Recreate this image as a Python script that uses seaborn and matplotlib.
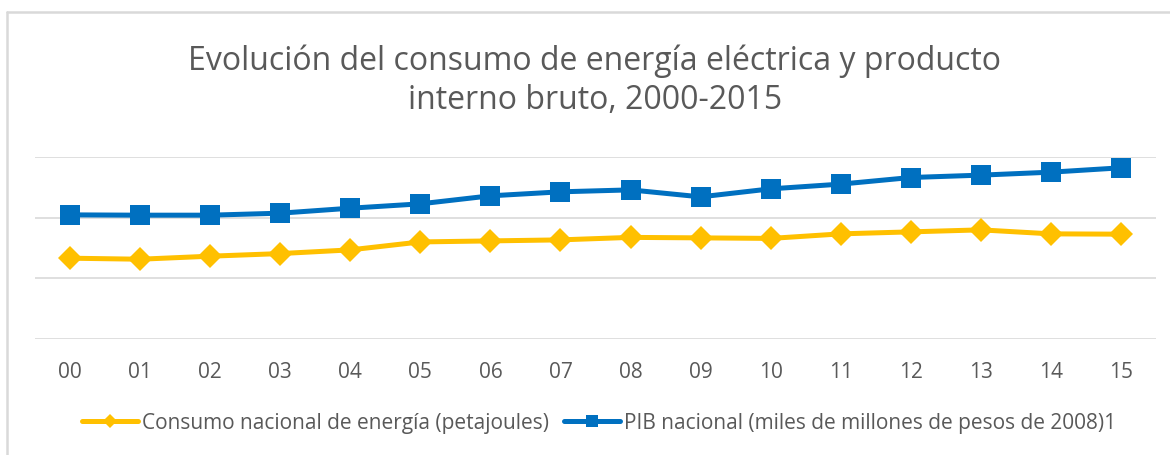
import pandas as pd
import numpy as np
import matplotlib.pyplot as plt
import seaborn as sns
from matplotlib.lines import Line2D

sns.set_theme(style="white")
plt.rcParams["font.family"] = ["Open Sans", "DejaVu Sans"]

# datos (eje y sin etiquetas, escala 0-15000)
years = ["00", "01", "02", "03", "04", "05", "06", "07",
         "08", "09", "10", "11", "12", "13", "14", "15"]
consumo = [6660, 6575, 6825, 7040, 7345, 8000, 8085, 8170,
           8375, 8335, 8290, 8665, 8830, 8995, 8665, 8640]
pib = [10230, 10205, 10205, 10370, 10780, 11140, 11800, 12130,
       12290, 11715, 12375, 12765, 13310, 13505, 13750, 14110]

lbl_consumo = "Consumo nacional de energía (petajoules)"
lbl_pib = "PIB nacional (miles de millones de pesos de 2008)1"

YELLOW = "#FFC000"
BLUE = "#0070C0"
GRID = "#D9D9D9"
TEXT = "#595959"

df = pd.DataFrame({"year": years, "consumo": consumo, "pib": pib})

fig = plt.figure(figsize=(11.7, 4.56), dpi=100)
ax = fig.add_axes([35 / 1170, (456 - 340) / 456, 1121 / 1170, (340 - 158) / 456])

sns.lineplot(data=df, x="year", y="consumo", ax=ax, color=YELLOW, lw=3.6,
             marker="D", markersize=12.5, markeredgewidth=0, label=lbl_consumo, sort=False)
sns.lineplot(data=df, x="year", y="pib", ax=ax, color=BLUE, lw=3.6,
             marker="s", markersize=14.5, markeredgewidth=0, label=lbl_pib, sort=False)

ax.set_xlim(-0.5, len(years) - 0.5)
ax.set_ylim(0, 15000)
ax.set_yticks([0, 5000, 10000, 15000])
ax.set_yticklabels([])
ax.grid(axis="y", color=GRID, lw=1.2)
ax.set_axisbelow(True)
for s in ax.spines.values():
    s.set_visible(False)
ax.set_xlabel("")
ax.set_ylabel("")
ax.tick_params(axis="x", length=0, pad=16, labelsize=15, labelcolor=TEXT)
ax.tick_params(axis="y", length=0)

fig.text(595 / 1170, 1 - 81 / 456,
         "Evolución del consumo de energía eléctrica y producto\ninterno bruto, 2000-2015",
         ha="center", va="center", fontsize=23, color=TEXT, linespacing=1.25)

ax.legend(loc="center", bbox_to_anchor=(599 / 1170, 1 - 424 / 456),
          bbox_transform=fig.transFigure, ncol=2, frameon=False,
          fontsize=15, labelcolor=TEXT, markerscale=0.55,
          handlelength=2.7, handletextpad=0.2, columnspacing=0.7)

# borde de la grafica (solo arriba e izquierda visibles)
fig.add_artist(Line2D([7 / 1170, 7 / 1170], [0, 1 - 13 / 456], color=GRID, lw=1.8))
fig.add_artist(Line2D([7 / 1170, 1], [1 - 13 / 456, 1 - 13 / 456], color=GRID, lw=1.8))

fig.savefig("out.png", dpi=100, facecolor="white")
